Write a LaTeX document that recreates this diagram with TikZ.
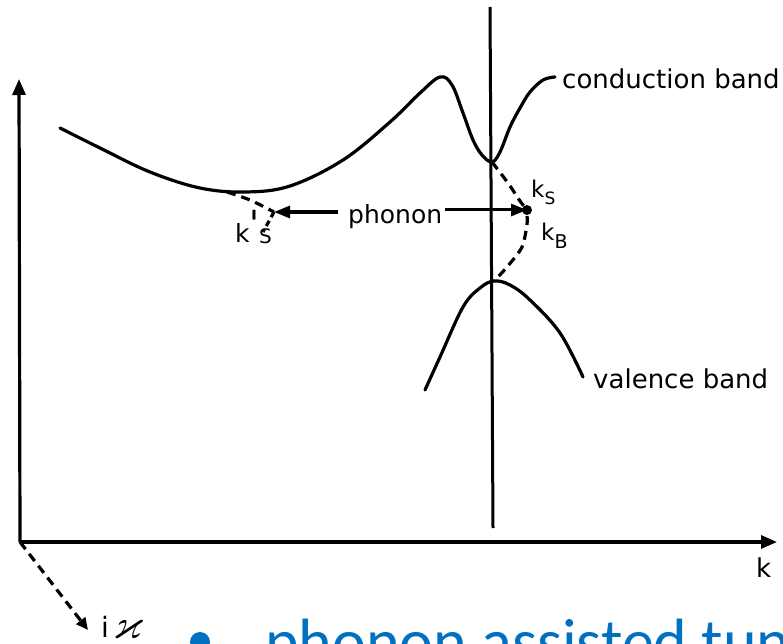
\documentclass[tikz,border=0pt]{standalone}
\usepackage{fontspec}
\usepackage{amssymb}
\setmainfont{DejaVu Sans}
\newfontfamily\carlito{Carlito}
\usetikzlibrary{arrows.meta,calc}
\definecolor{slideblue}{RGB}{0,112,192}
\begin{document}
\begin{tikzpicture}[x=1pt,y=-1pt,
  band/.style={line width=3.2pt,line cap=round,line join=round},
  dashline/.style={line width=3.2pt,dash pattern=on 9pt off 6pt},
  axis/.style={line width=3.2pt,-{Triangle[length=16pt,width=13pt]}},
  lbl/.style={inner sep=0pt,anchor=base west,font=\fontsize{26}{26}\selectfont},
  klbl/.style={inner sep=0pt,anchor=base west,font=\fontsize{23}{23}\selectfont}]
\useasboundingbox (0,0) rectangle (783,644);
\begin{scope}
\clip (0,0) rectangle (783,644);
% axes
\coordinate (O) at (20,542);
\coordinate (ytip) at (19,79);
\coordinate (xtip) at (777,542);
\coordinate (ztip) at (88,630);
\draw[axis] (O) -- (ytip);
\draw[axis] (O) -- (xtip);
\draw[dashline,-{Triangle[length=12pt,width=11pt]}] (O) -- (ztip);
\node[lbl] (klabel) at (756,577) {k};
\node[inner sep=0pt,anchor=base west,font=\fontsize{28}{28}\selectfont] (ilabel) at (101,637) {i};
\node[inner sep=0pt,anchor=base west,font=\fontsize{42}{42}\selectfont] (kappa) at (113,638) {$\varkappa$};
% vertical line
\coordinate (vtop) at (490,7);
\coordinate (vbot) at (493,528);
\draw[line width=3pt] (vtop) -- (vbot);
% conduction band
\draw[band] plot[smooth,tension=0.6] coordinates {(60,128) (100,148) (150,172) (200,188) (245,192) (290,186) (343,160) (390,122) (420,93) (440,77) (452,85) (463,113) (473,140) (482,155) (492,162) (500,152) (510,127) (520,108) (530,92) (543,80) (555,77)};
\node[lbl] (cb) at (562,89) {conduction band};
% valence band
\draw[band] plot[smooth,tension=0.6] coordinates {(425,390) (440,357) (463,307) (480,288) (494,281) (510,285) (530,300) (560,333) (583,377)};
\node[lbl] (vb) at (593,388) {valence band};
% k_S point
\node[circle,fill,inner sep=0pt,minimum size=10pt] (ks) at (527,210) {};
\coordinate (ksp) at (274,212);
% dashed tunnelling paths
\draw[dashline] plot[smooth] coordinates {(492,162) (508,183) (520,201) (527,210)};
\draw[dashline] plot[smooth] coordinates {(527,216) (527,224) (522,247) (507,267) (494,281)};
\draw[dashline] plot[smooth] coordinates {(227,192) (250,200) (274,212)};
\draw[line width=3.2pt,dash pattern=on 6pt off 4pt] (ksp) -- (263,232);
% phonon
\node[inner sep=0pt,anchor=base west,font=\fontsize{25}{25}\selectfont] (phonon) at (348,223) {phonon};
\draw[line width=3pt,-{Triangle[length=16pt,width=12pt]}] ($(phonon.west |- ksp)+(-10,0)$) -- (ksp);
\draw[line width=3pt,-{Triangle[length=16pt,width=12pt]}] ($(phonon.east |- ks)+(3,0)$) -- (ks.center);
% k labels
\node[klbl] (kslabel) at (531,198) {k\raisebox{-6pt}{\fontsize{17}{17}\selectfont S}};
\node[klbl] (kblabel) at (541,240) {k\raisebox{-8pt}{\fontsize{19}{19}\selectfont B}};
\node[inner sep=0pt,anchor=base west,font=\fontsize{25}{25}\selectfont] (ksplabel) at (235,242) {k};
\node[inner sep=0pt,anchor=base,font=\fontsize{36}{36}\selectfont] (kprime) at (254,236) {\textquotesingle};
\node[inner sep=0pt,anchor=base west,font=\fontsize{20}{20}\selectfont] (kssub) at (259,243) {S};
% slide text
\node[circle,fill=slideblue,inner sep=0pt,minimum size=20pt] (bullet) at (200,642) {};
\node[inner sep=0pt,anchor=base west,font=\carlito\fontsize{64}{64}\selectfont,text=slideblue] (slidetext) at (265,663) {phonon assisted tun};
\end{scope}
\end{tikzpicture}
\end{document}
